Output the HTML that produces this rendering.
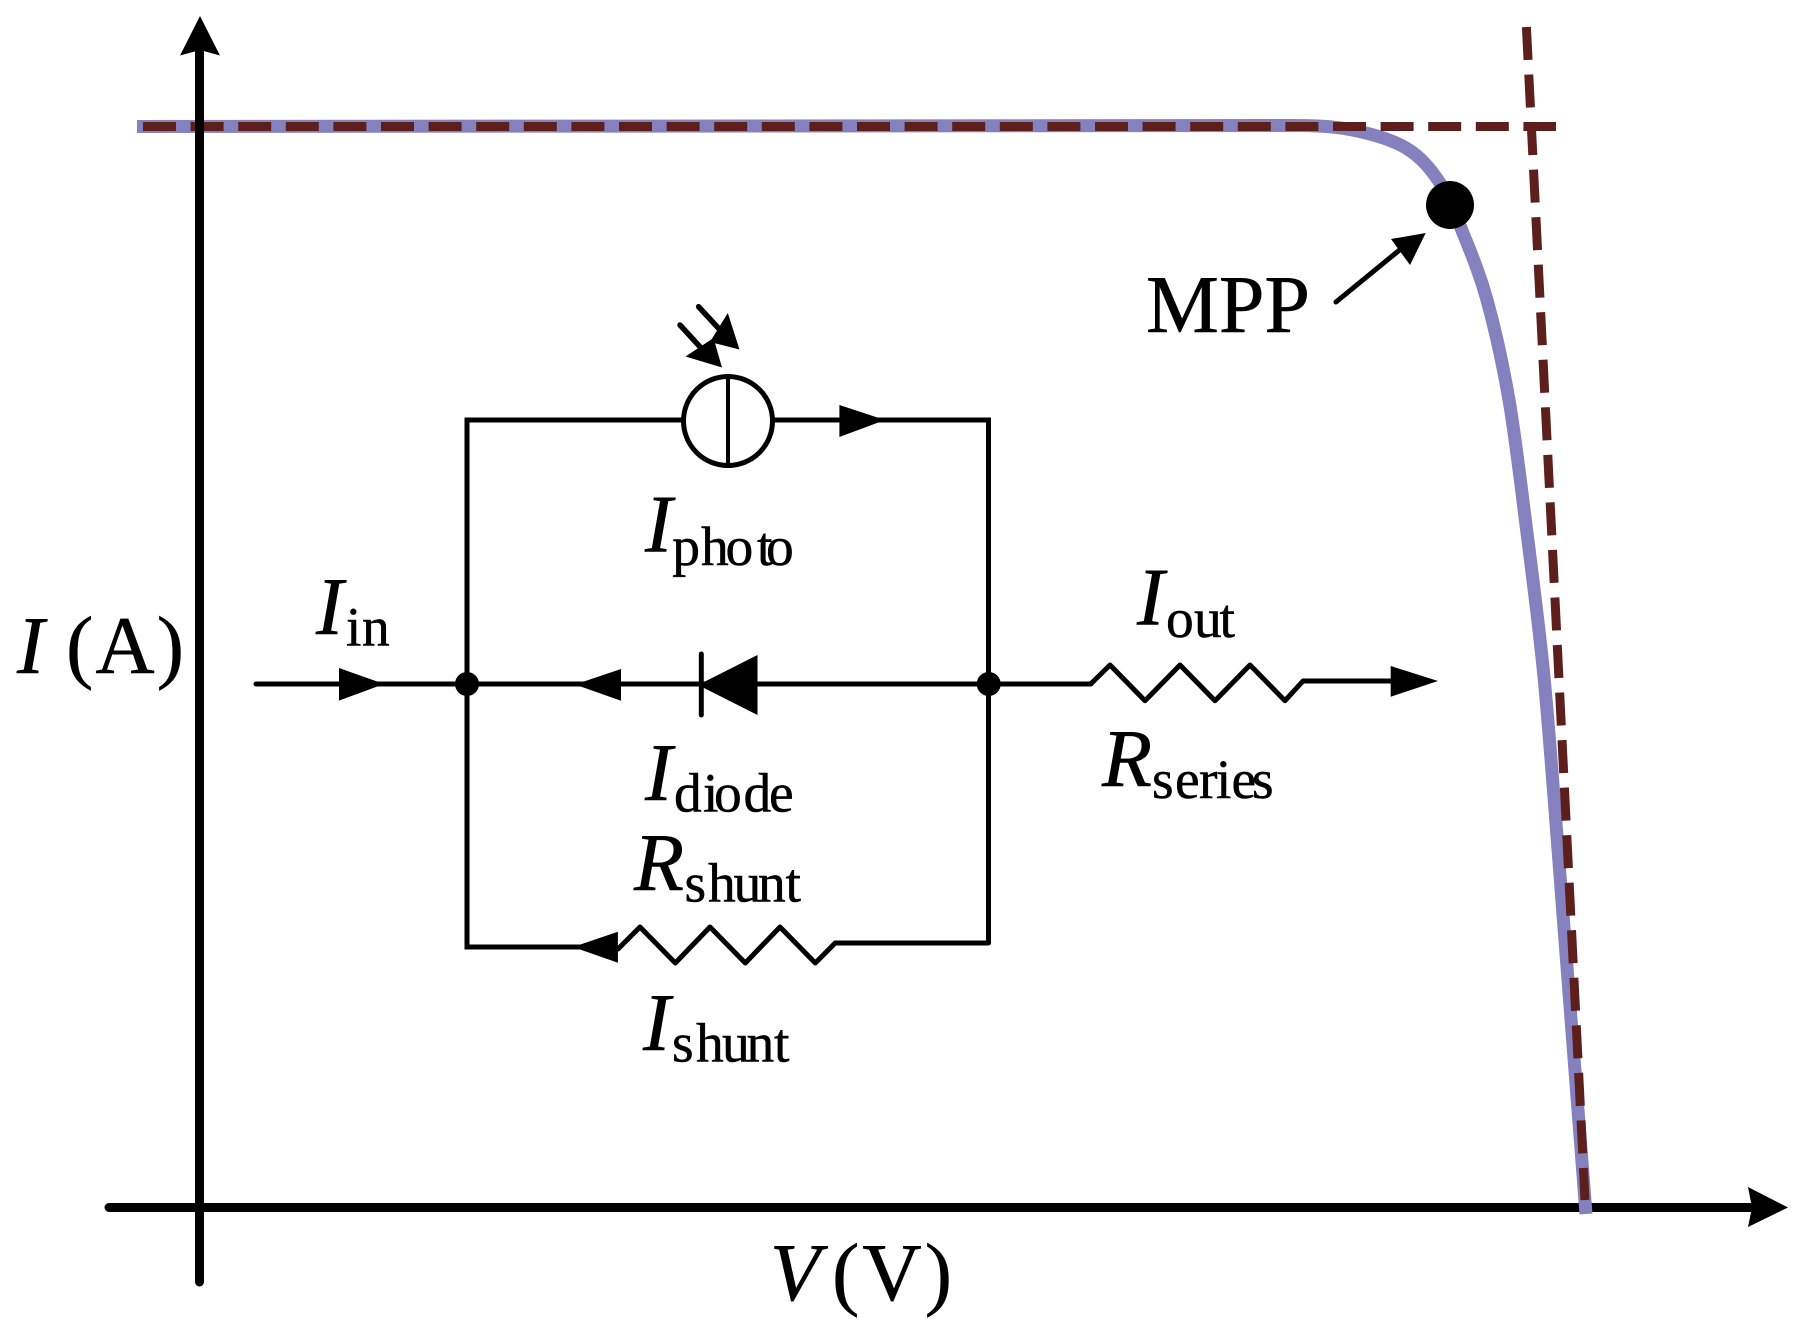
<!DOCTYPE html>
<html>
<head>
<meta charset="utf-8">
<style>
html,body{margin:0;padding:0;background:#fff;}
svg{display:block;}
text{font-family:"Liberation Serif",serif;fill:#000;stroke:#000;stroke-width:.5px;font-kerning:none;text-rendering:geometricPrecision;}
.m{font-size:82px;}
.i{font-size:82px;font-style:italic;}
.s{font-size:55.5px;}
</style>
</head>
<body>
<svg width="1797" height="1335" viewBox="0 0 1797 1335" xmlns="http://www.w3.org/2000/svg">
<rect width="1797" height="1335" fill="#fff"/>

<!-- X axis -->
<line x1="109" y1="1207.5" x2="1752" y2="1207.5" stroke="#000" stroke-width="9" stroke-linecap="round"/>
<polygon points="1788,1207.5 1748,1187 1752,1207.5 1748,1227" fill="#000"/>

<!-- I-V curve -->
<path d="M137 126.5 L1290 125.5 C1310 125.5 1331 125.8 1350 129.5 C1369.3 133.25 1391 139.1 1406 148 C1421 156.9 1430.5 168.8 1440 183 C1449.5 197.2 1455.2 213.5 1463 233 C1470.8 252.5 1479.3 272.2 1487 300 C1494.7 327.8 1502.3 361.2 1509 400 C1515.7 438.8 1521.3 488.5 1527 533 C1532.7 577.5 1538.5 623 1543 667 C1547.5 711 1549.8 744.8 1554 797 C1558.2 849.2 1562.7 910.5 1568 980 C1573.3 1049.5 1580 1136 1586 1214" fill="none" stroke="#8581BE" stroke-width="13"/>

<!-- Dashed asymptotes -->
<line x1="143" y1="126.5" x2="1556" y2="126.5" stroke="#5C1F1B" stroke-width="9" stroke-dasharray="33 14.6"/>
<line x1="1526.4" y1="27" x2="1585" y2="1200" stroke="#5C1F1B" stroke-width="9" stroke-dasharray="33 14.6"/>

<!-- Y axis -->
<line x1="199.5" y1="50" x2="199.5" y2="1282" stroke="#000" stroke-width="9" stroke-linecap="round"/>
<polygon points="200,16 180,55.5 200,50 220,55.5" fill="#000"/>

<!-- MPP -->
<ellipse cx="1450" cy="205" rx="24" ry="24" fill="#000"/>
<line x1="1336" y1="302" x2="1402" y2="248" stroke="#000" stroke-width="5" stroke-linecap="round"/>
<polygon points="1425.7,233 1391,239 1410,265" fill="#000"/>
<text class="m" x="1146" y="332" textLength="164" lengthAdjust="spacing">MPP</text>

<!-- Circuit wires -->
<g fill="none" stroke="#000" stroke-width="5">
  <polyline points="467,684 467,420 682,420"/>
  <polyline points="774,420 988.5,420 988.5,684"/>
  <line x1="256" y1="684" x2="1091" y2="684" stroke-linecap="round"/>
  <polyline points="1090.7,684 1110,665 1145,700.7 1180,665 1215,700.7 1250,665 1285,700.7 1303,681 1392,681" stroke-linejoin="round"/>
  <polyline points="988.5,684 988.5,943 835.2,943 815.3,963 780,927 745.3,963 710,927 675.3,963 640,927 617,950" stroke-linejoin="round"/>
  <polyline points="467,684 467,947 580,947"/>
  <circle cx="728" cy="421" r="44.5"/>
  <line x1="728" y1="377" x2="728" y2="465" stroke-width="4"/>
  <line x1="701.3" y1="654" x2="701.3" y2="715" stroke-linecap="round"/>
  <line x1="698.6" y1="306.7" x2="722" y2="332" stroke-width="5.5" stroke-linecap="round"/>
  <line x1="680" y1="325" x2="702" y2="349" stroke-width="5.5" stroke-linecap="round"/>
</g>

<!-- Light arrowheads -->
<polygon points="739.5,349.5 727.8,313 710,342" fill="#000"/>
<polygon points="722,367.5 713.5,338 685.5,356.5" fill="#000"/>

<!-- Circuit arrowheads and diode -->
<polygon points="885,420 839.4,405 839.4,437" fill="#000"/>
<polygon points="384,684 339,668 339,700.6" fill="#000"/>
<polygon points="575,684.5 621,669 621,700.7" fill="#000"/>
<polygon points="698,685 757.5,655 757.5,715" fill="#000"/>
<polygon points="573,947 617.9,931.7 617.9,962.7" fill="#000"/>
<polygon points="1438,681 1390.7,666 1390.7,696.7" fill="#000"/>
<circle cx="467" cy="684" r="12" fill="#000"/>
<circle cx="988.7" cy="684" r="12" fill="#000"/>

<!-- Labels -->
<text class="i" x="645" y="551.7">I</text>
<text class="s" x="672.3 701 725.5 757 766" y="565">photo</text>

<text class="i" x="645" y="800">I</text>
<text class="s" x="674 703 714 743.5 769" y="811.7">diode</text>

<text class="i" x="634" y="890">R</text>
<text class="s" x="684.5 708 733.5 758 785.5" y="901.7">shunt</text>

<text class="i" x="643" y="1050">I</text>
<text class="s" x="672 696 722 746.5 774" y="1061.7">shunt</text>

<text class="i" x="1137" y="624.7">I</text>
<text class="s" x="1166 1194 1219.5" y="637">out</text>

<text class="i" x="1102" y="786">R</text>
<text class="s" x="1152 1175 1199 1216 1231.5 1252" y="798">series</text>

<text class="i" x="316" y="634">I</text>
<text class="s" x="346 362" y="645.7">in</text>

<text class="i" x="17" y="673">I</text>
<text class="m" x="66" y="673" textLength="118" lengthAdjust="spacing">(A)</text>

<text class="i" x="770" y="1300">V</text>
<text class="m" x="832" y="1300" textLength="120" lengthAdjust="spacing">(V)</text>
</svg>
</body>
</html>
